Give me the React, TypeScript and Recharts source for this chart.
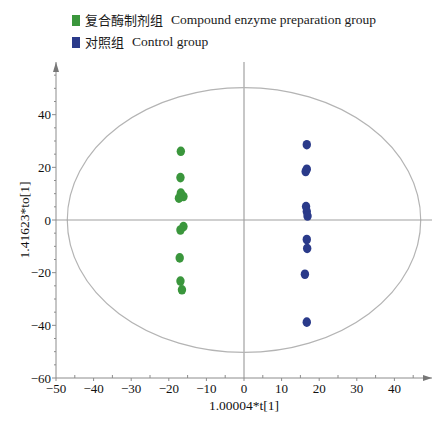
import {
  ReferenceArea,
  ReferenceDot,
  ReferenceLine,
  Scatter,
  ScatterChart,
  XAxis,
  YAxis,
} from "recharts";

// score plot: t[1] vs to[1]
const enzymeX = [-16.8, -16.9, -16.8, -16.1, -17.3, -16.1, -16.9, -17.1, -16.9, -16.5];
const enzymeY = [26.1, 16.1, 10.2, 8.9, 8.3, -2.5, -3.8, -14.4, -23.2, -26.5];
const controlX = [16.7, 16.7, 16.4, 16.5, 16.7, 16.9, 16.7, 16.8, 16.2, 16.7];
const controlY = [28.6, 19.3, 18.4, 5.1, 3.2, 1.5, -7.4, -10.8, -20.6, -38.8];

const xTicks = [-50, -45, -40, -35, -30, -25, -20, -15, -10, -5, 0, 5, 10, 15, 20, 25, 30, 35, 40, 45];
const xLabels = [-50, -40, -30, -20, -10, 0, 10, 20, 30, 40];
const yTicks = [-60, -55, -50, -45, -40, -35, -30, -25, -20, -15, -10, -5, 0, 5, 10, 15, 20, 25, 30, 35, 40, 45, 50, 55];
const yLabels = [-60, -40, -20, 0, 20, 40];

// Hotelling T2 ellipse half-axes
const ellipseRx = 47;
const ellipseRy = 50.3;

const GREEN = "#3a963c";
const BLUE = "#2a3a8a";
const AXIS = "#8c8c8c";
const SERIF = "'Liberation Serif', 'Times New Roman', serif";

const series = [
  { name: "复合酶制剂组", en: "Compound enzyme preparation group", color: GREEN, xs: enzymeX, ys: enzymeY },
  { name: "对照组", en: "Control group", color: BLUE, xs: controlX, ys: controlY },
];

const toPoints = (xs: number[], ys: number[]) => xs.map((x, i) => ({ x, y: ys[i] }));

const fmt = (v: number) => (v < 0 ? `\u2212${Math.abs(v)}` : `${v}`);

const XTick = (props: any) => {
  const { x, y, payload } = props;
  const v = Math.round(Number(payload.value));
  const major = xLabels.includes(v);
  return (
    <g>
      <line x1={x} y1={y} x2={x} y2={major ? y + 3 : y - 3} stroke={AXIS} />
      {major ? (
        <text x={x} y={y + 15} textAnchor="middle" fontSize={13} fontFamily={SERIF} fill="#111">
          {fmt(v)}
        </text>
      ) : null}
    </g>
  );
};

const YTick = (props: any) => {
  const { x, y, payload } = props;
  const v = Math.round(Number(payload.value));
  const major = yLabels.includes(v);
  return (
    <g>
      <line x1={x} y1={y} x2={x - (major ? 4 : 2)} y2={y} stroke={AXIS} />
      {major ? (
        <text x={x - 5} y={y + 4.5} textAnchor="end" fontSize={13} fontFamily={SERIF} fill="#111">
          {fmt(v)}
        </text>
      ) : null}
    </g>
  );
};

export default function App() {
  return (
    <div style={{ position: "absolute", left: 0, top: 0, width: 436, height: 421, background: "#fff" }}>
      <div
        style={{
          position: "absolute",
          left: 72,
          top: 9,
          fontFamily: SERIF,
          fontSize: 13.5,
          color: "#1a1a1a",
          lineHeight: "22px",
          zIndex: 2,
        }}
      >
        {series.map((s) => (
          <div key={s.name} style={{ display: "flex", alignItems: "center" }}>
            <span style={{ width: 8, height: 11, background: s.color, marginRight: 5, display: "inline-block" }} />
            <span style={{ fontFamily: "'Noto Sans CJK SC', sans-serif", fontSize: 13 }}>{s.name}</span>
            <span style={{ marginLeft: 8 }}>{s.en}</span>
          </div>
        ))}
      </div>
      <ScatterChart width={436} height={421} margin={{ top: 62, right: 4, left: 10, bottom: 3 }}>
        <XAxis
          type="number"
          dataKey="x"
          domain={[-50, 50]}
          ticks={xTicks}
          interval={0}
          tick={XTick}
          tickLine={false}
          tickSize={0}
          tickMargin={0}
          height={40}
          axisLine={{ stroke: AXIS }}
          label={{ value: "1.00004*t[1]", position: "insideBottom", offset: 8, fontSize: 13.5, fontFamily: SERIF, fill: "#111" }}
        />
        <YAxis
          type="number"
          dataKey="y"
          domain={[-60, 60]}
          ticks={yTicks}
          interval={0}
          tick={YTick}
          tickLine={false}
          tickSize={0}
          tickMargin={0}
          width={46}
          axisLine={{ stroke: AXIS }}
          label={{ value: "1.41623*to[1]", angle: -90, position: "insideLeft", offset: 14, fontSize: 13.5, fontFamily: SERIF, fill: "#111", style: { textAnchor: "middle" } }}
        />
        <ReferenceArea
          x1={-ellipseRx}
          x2={ellipseRx}
          y1={-ellipseRy}
          y2={ellipseRy}
          shape={(p: any) => (
            <ellipse
              cx={p.x + p.width / 2}
              cy={p.y + p.height / 2}
              rx={Math.abs(p.width) / 2}
              ry={Math.abs(p.height) / 2}
              fill="none"
              stroke="#b4b4b4"
              strokeWidth={1.2}
            />
          )}
        />
        <ReferenceLine x={0} stroke="#b4b4b4" strokeWidth={1.5} />
        <ReferenceLine y={0} stroke="#a0a0a0" strokeWidth={1.2} />
        <ReferenceDot
          x={50}
          y={-60}
          ifOverflow="visible"
          shape={(p: any) => (
            <path d={`M${p.cx},${p.cy} L${p.cx - 9},${p.cy - 3} L${p.cx - 9},${p.cy + 3} Z`} fill="#777" />
          )}
        />
        <ReferenceDot
          x={-50}
          y={60}
          ifOverflow="visible"
          shape={(p: any) => (
            <path d={`M${p.cx},${p.cy} L${p.cx - 3},${p.cy + 10} L${p.cx + 3},${p.cy + 10} Z`} fill="#777" />
          )}
        />
        {series.map((s) => (
          <Scatter
            key={s.name}
            name={s.name}
            data={toPoints(s.xs, s.ys)}
            isAnimationActive={false}
            shape={(p: any) => <ellipse cx={p.cx} cy={p.cy} rx={4.2} ry={4.8} fill={s.color} />}
          />
        ))}
      </ScatterChart>
    </div>
  );
}
